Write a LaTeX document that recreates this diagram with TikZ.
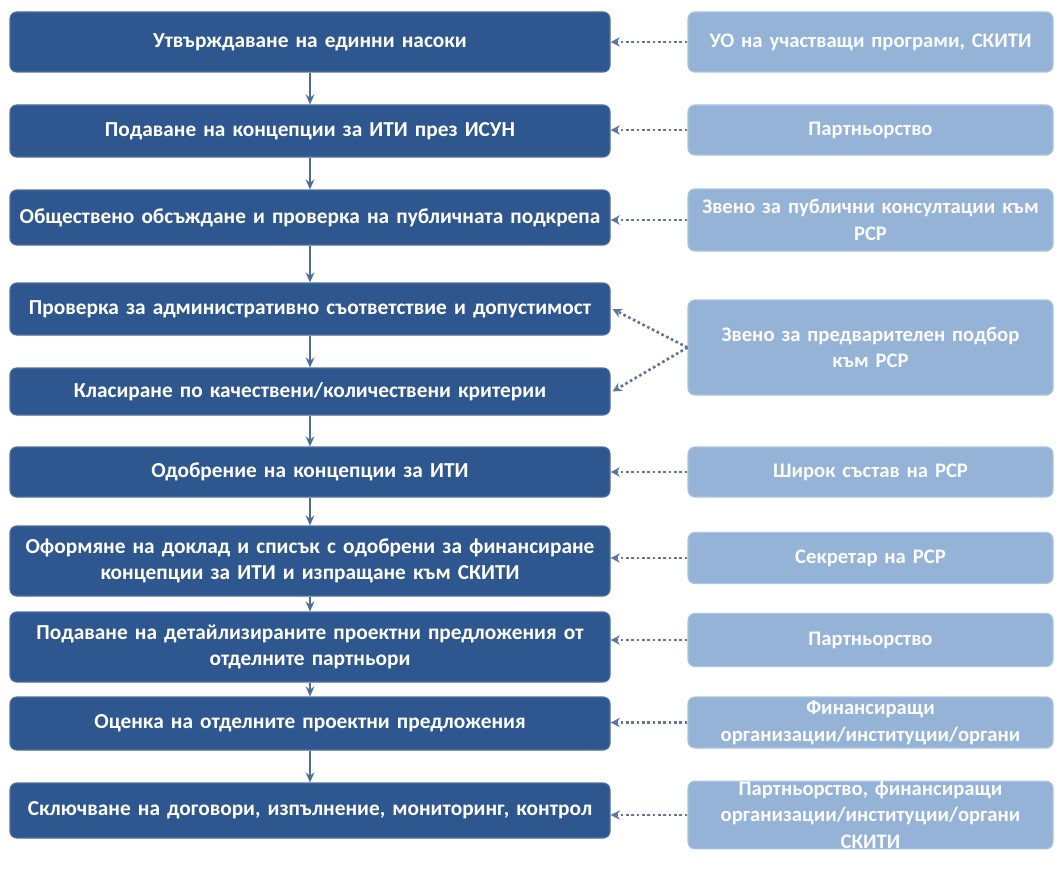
\documentclass[tikz,border=0pt]{standalone}
\usepackage{fontspec}
\setmainfont{Carlito}
\usetikzlibrary{arrows.meta}
\definecolor{darkbox}{RGB}{46,87,143}
\definecolor{lightbox}{RGB}{149,179,215}
\definecolor{lightedge}{RGB}{170,196,226}
\definecolor{arrowcol}{RGB}{78,108,152}
\definecolor{dotcol}{RGB}{96,118,158}
\begin{document}
\begin{tikzpicture}[x=0.75pt,y=-0.75pt,
  stage/.style={draw=darkbox!85!white, line width=0.8pt, fill=darkbox, rounded corners=5pt,
    minimum width=450pt, text width=440pt, align=center, text=white,
    font=\fontsize{16}{20}\selectfont\bfseries, inner sep=0pt},
  actor/.style={draw=lightedge, line width=0.8pt, fill=lightbox, rounded corners=5pt,
    minimum width=273.75pt, text width=264pt, align=center, text=white!96!lightbox,
    font=\fontsize{15.5}{20}\selectfont\bfseries, inner sep=0pt},
  flow/.style={draw=arrowcol, line width=1.5pt, -{Stealth[length=7.5pt,width=6.5pt]}},
  link/.style={draw=dotcol, line width=2pt, dash pattern=on 2pt off 2pt, -{Stealth[length=7pt,width=7pt]}}
]
\useasboundingbox (0,0) rectangle (1060,874);

% process stages
\node[stage, minimum height=45pt]   (L1)  at (310,42)    {Утвърждаване на единни насоки};
\node[stage, minimum height=39pt]   (L2)  at (310,131)   {Подаване на концепции за ИТИ през ИСУН};
\node[stage, minimum height=41.25pt](L3)  at (310,217.5) {Обществено обсъждане и проверка на публичната подкрепа};
\node[stage, minimum height=39pt]   (L4)  at (310,309)   {Проверка за административно съответствие и допустимост};
\node[stage, minimum height=35.25pt](L5)  at (310,391.5) {Класиране по качествени/количествени критерии};
\node[stage, minimum height=37.5pt] (L6)  at (310,472)   {Одобрение на концепции за ИТИ};
\node[stage, minimum height=52.5pt] (L7)  at (310,561)   {Оформяне на доклад и списък с одобрени за финансиране\\концепции за ИТИ и изпращане към СКИТИ};
\node[stage, minimum height=52.5pt] (L8)  at (310,647)   {Подаване на детайлизираните проектни предложения от\\отделните партньори};
\node[stage, minimum height=39.75pt](L9)  at (310,723.5) {Оценка на отделните проектни предложения};
\node[stage, minimum height=41.25pt](L10) at (310,810.5) {Сключване на договори, изпълнение, мониторинг, контрол};

% actors
\node[actor, minimum height=45pt]   (R1) at (870.5,42)    {УО на участващи програми, СКИТИ};
\node[actor, minimum height=37.5pt] (R2) at (870.5,130)   {Партньорство};
\node[actor, minimum height=46.5pt] (R3) at (870.5,220)   {Звено за публични консултации към\\РСР};
\node[actor, minimum height=71.25pt](R4) at (870.5,347.5) {Звено за предварителен подбор\\към РСР};
\node[actor, minimum height=37.5pt] (R5) at (870.5,472)   {Широк състав на РСР};
\node[actor, minimum height=38.25pt](R6) at (870.5,558)   {Секретар на РСР};
\node[actor, minimum height=39.75pt](R7) at (870.5,640)   {Партньорство};
\node[actor, minimum height=38.25pt](R8) at (870.5,722.5) {Финансиращи\\организации/институции/органи};
\node[actor, minimum height=49.5pt] (R9) at (870.5,815)   {Партньорство, финансиращи\\организации/институции/органи\\СКИТИ};

% vertical flow
\foreach \a/\b in {L1/L2,L2/L3,L3/L4,L4/L5,L5/L6,L6/L7,L7/L8,L8/L9,L9/L10}
  \draw[flow] (\a.south) -- (\b.north);

% dotted links
\draw[link] (R1.west) -- (R1.west -| L1.east);
\draw[link] (R2.west) -- (R2.west -| L2.east);
\draw[link] (R3.west) -- (R3.west -| L3.east);
\draw[link] (R4.west) -- ([xshift=1.5pt]L4.east);
\draw[link] (R4.west) -- ([xshift=1.5pt]L5.east);
\draw[link] (R5.west) -- (R5.west -| L6.east);
\draw[link] (R6.west) -- (R6.west -| L7.east);
\draw[link] (R7.west) -- (R7.west -| L8.east);
\draw[link] (R8.west) -- (R8.west -| L9.east);
\draw[link] (R9.west) -- (R9.west -| L10.east);
\end{tikzpicture}
\end{document}
